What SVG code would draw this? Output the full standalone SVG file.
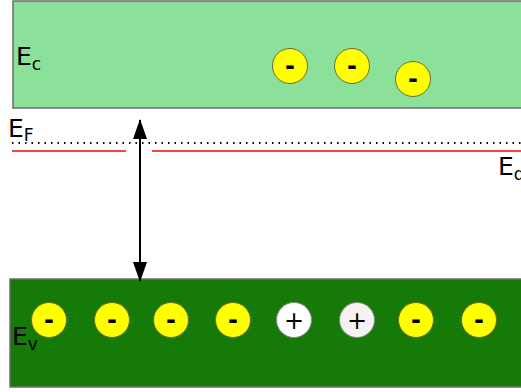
<svg xmlns="http://www.w3.org/2000/svg" width="521" height="392" viewBox="0 0 521 392">
<style>
.lbl{font-family:"DejaVu Sans","Liberation Sans",sans-serif;fill:#000}
.big{font-size:25px}
.sub{font-size:17px}
.e{fill:#ffff00;stroke:#6b6b3a;stroke-width:1}
.h{fill:#ffffff;stroke:#888;stroke-width:1}
.sign{font-family:"DejaVu Sans","Liberation Sans",sans-serif;font-size:24px;text-anchor:middle;fill:#000}
.minus{font-weight:bold}
</style>
<defs>
<marker id="ah" viewBox="0 0 20 14" refX="19" refY="7" markerWidth="10" markerHeight="7" orient="auto-start-reverse" markerUnits="strokeWidth">
<path d="M0,0 L20,7 L0,14 z" fill="#000"/>
</marker>
</defs>
<g id="conduction-band">
<rect x="13" y="1" width="520" height="107" fill="#8be09a" stroke="#6e6e6e" stroke-width="1.5"/>
<text class="lbl big" x="16" y="65">E<tspan class="sub" dy="5">c</tspan></text>
</g>
<g id="valence-band">
<rect x="10" y="279" width="523" height="108" fill="#157a07" stroke="#6e6e6e" stroke-width="1.5"/>
<text class="lbl big" x="12" y="345">E<tspan class="sub" dy="5">v</tspan></text>
</g>
<g id="fermi-level">
<line x1="12" y1="143" x2="521" y2="143" stroke="#000" stroke-width="2" stroke-dasharray="1.5,5"/>
<text class="lbl big" x="8" y="137">E<tspan class="sub" dy="4">F</tspan></text>
</g>
<g id="donor-level">
<line x1="12" y1="151" x2="126" y2="151" stroke="#ff0000" stroke-width="1.5"/>
<line x1="152" y1="151" x2="521" y2="151" stroke="#ff0000" stroke-width="1.5"/>
<text class="lbl big" x="498" y="175">E<tspan class="sub" dy="5">d</tspan></text>
</g>
<g id="connectors">
<line x1="140" y1="120" x2="140" y2="281" stroke="#000" stroke-width="2" marker-start="url(#ah)" marker-end="url(#ah)"/>
</g>
<g id="electrons-cb">
<circle class="e" cx="290" cy="66" r="17.5"/><text class="sign minus" x="290" y="74">-</text>
<circle class="e" cx="352" cy="66" r="17.5"/><text class="sign minus" x="352" y="74">-</text>
<circle class="e" cx="413" cy="79" r="17.5"/><text class="sign minus" x="413" y="87">-</text>
</g>
<g id="carriers-vb">
<circle class="e" cx="49" cy="320" r="17.5"/><text class="sign minus" x="49" y="328">-</text>
<circle class="e" cx="112" cy="320" r="17.5"/><text class="sign minus" x="112" y="328">-</text>
<circle class="e" cx="171" cy="320" r="17.5"/><text class="sign minus" x="171" y="328">-</text>
<circle class="e" cx="233" cy="320" r="17.5"/><text class="sign minus" x="233" y="328">-</text>
<circle class="h" cx="294" cy="320" r="17.5"/><text class="sign" x="294" y="329">+</text>
<circle class="h" cx="357" cy="320" r="17.5" style="fill:#f7f2f2"/><text class="sign" x="357" y="329">+</text>
<circle class="e" cx="416" cy="320" r="17.5"/><text class="sign minus" x="416" y="328">-</text>
<circle class="e" cx="479" cy="320" r="17.5"/><text class="sign minus" x="479" y="328">-</text>
</g>
</svg>
